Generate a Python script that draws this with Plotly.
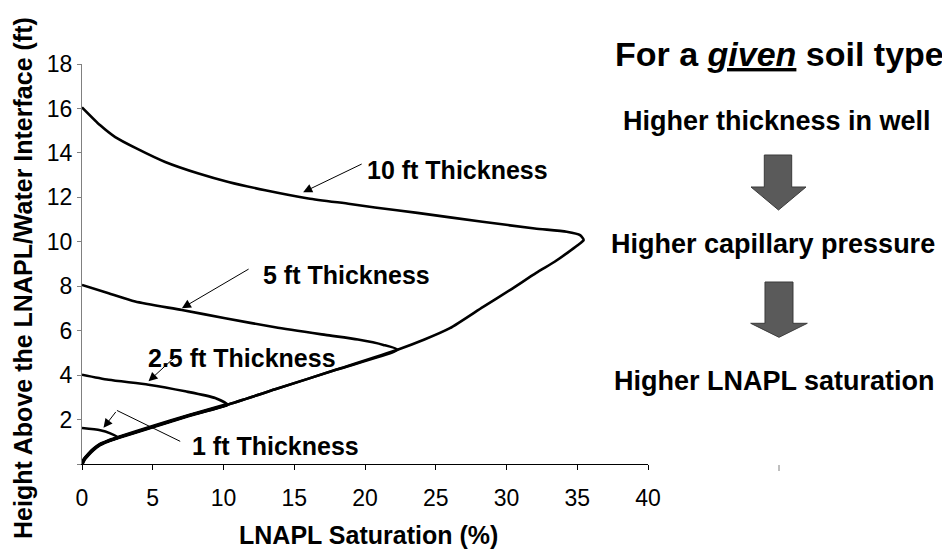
import plotly.graph_objects as go

# ---------------- data ----------------
# shared lower branch, from origin up to the 10 ft tip
lower_sat = [0, 0.15, 0.45, 0.8, 1.29, 1.9, 2.56, 5.0, 7.5, 10.27, 13.65, 18.0,
             22.3, 24.2, 26.0, 28.35, 30.3, 32.1, 33.4, 34.3, 35.0, 35.45]
lower_h = [0, 0.2, 0.43, 0.65, 0.88, 1.05, 1.19, 1.68, 2.17, 2.67, 3.36, 4.25,
           5.14, 5.6, 6.11, 7.07, 7.85, 8.6, 9.1, 9.5, 9.83, 10.08]

# upper branches (from the y axis to the junction with the lower branch)
up10_sat = [0, 1.29, 2.35, 3.88, 5.88, 8.24, 10.35, 12.95, 16.0, 18.95, 20.7,
            23.7, 28.3, 32.0, 34.25, 35.2]
up10_h = [16.05, 15.24, 14.71, 14.19, 13.59, 13.07, 12.69, 12.32, 11.95, 11.7,
          11.54, 11.3, 10.9, 10.6, 10.45, 10.3]
up5_sat = [0, 1.88, 3.76, 7.06, 10.12, 13.65, 17.2, 19.5, 21.3]
up5_h = [8.06, 7.68, 7.31, 6.93, 6.56, 6.15, 5.81, 5.6, 5.36]
up25_sat = [0, 1.88, 4.7, 7.3, 9.41]
up25_h = [4.02, 3.79, 3.57, 3.27, 2.97]
up1_sat = [0, 1.29, 2.0]
up1_h = [1.62, 1.52, 1.38]

curve_names = ["10 ft Thickness", "5 ft Thickness", "2.5 ft Thickness", "1 ft Thickness"]
curve_upper = [(up10_sat, up10_h), (up5_sat, up5_h), (up25_sat, up25_h), (up1_sat, up1_h)]
junction_idx = [21, 12, 9, 6]

x_ticks = [0, 5, 10, 15, 20, 25, 30, 35, 40]
y_ticks = [2, 4, 6, 8, 10, 12, 14, 16, 18]

# label arrows: head and tail in data units
arrow_heads_x = [15.63, 7.06, 4.70, 1.52]
arrow_heads_y = [12.23, 7.01, 3.72, 1.63]
arrow_tails_x = [19.87, 11.88, 6.73, 2.47]
arrow_tails_y = [13.53, 8.81, 4.91, 2.41]

right_texts = ["For a <i><u>given</u></i> soil type", "Higher thickness in well",
               "Higher capillary pressure", "Higher LNAPL saturation"]

# ---------------- layout helpers ----------------
# the page body adds an 8px offset; all positions below are page pixels
OFF = 8
W, H = 950, 552
PL, PR, PT, PB = 82, 648, 64, 464          # plot area in page pixels
L, T = PL - OFF, PT - OFF
R = W - (PR - OFF)
B = H - (PB - OFF)
PW, PH = PR - PL, PB - PT
FONT = "Liberation Sans, Arial, sans-serif"


def pxx(p):
    return (p - PL) / PW


def pxy(p):
    return (PB - p) / PH


fig = go.Figure()

fig.add_trace(go.Scatter(x=lower_sat[:10], y=lower_h[:10], mode="lines",
                         line=dict(color="black", width=3.8, shape="spline", smoothing=0.6),
                         showlegend=False, hoverinfo="skip"))

for name, (us, uh), j in zip(curve_names, curve_upper, junction_idx):
    xs = list(us) + lower_sat[:j + 1][::-1]
    ys = list(uh) + lower_h[:j + 1][::-1]
    fig.add_trace(go.Scatter(x=xs, y=ys, mode="lines", name=name,
                             line=dict(color="black", width=2.6, shape="spline", smoothing=0.6),
                             showlegend=False))

annotations = []
for hx, hy, tx, ty in zip(arrow_heads_x, arrow_heads_y, arrow_tails_x, arrow_tails_y):
    annotations.append(dict(x=hx, y=hy, ax=tx, ay=ty, xref="x", yref="y",
                            axref="x", ayref="y", text="", showarrow=True,
                            arrowhead=2, arrowsize=1.8, arrowwidth=1,
                            arrowcolor="black", standoff=0, startstandoff=0))

lab_font = dict(family=FONT, size=25, color="black")
label_pos = [(458, 170), (346, 275), (242, 358), (275, 446)]
for name, (lx, ly) in zip(curve_names, label_pos):
    annotations.append(dict(x=pxx(lx), y=pxy(ly), xref="paper", yref="paper",
                            text="<b>" + name + "</b>", showarrow=False,
                            xanchor="center", yanchor="middle", font=lab_font))

right_pos = [(779, 54, 34), (777, 121, 27), (773, 244, 27), (774, 381, 27)]
for txt, (rx, ry, fs) in zip(right_texts, right_pos):
    annotations.append(dict(x=pxx(rx), y=pxy(ry), xref="paper", yref="paper",
                            text="<b>" + txt + "</b>", showarrow=False,
                            xanchor="center", yanchor="middle",
                            font=dict(family=FONT, size=fs, color="black")))

annotations.append(dict(x=pxx(368), y=pxy(535), xref="paper", yref="paper",
                        text="<b>LNAPL Saturation (%)</b>", showarrow=False,
                        xanchor="center", yanchor="middle",
                        font=dict(family=FONT, size=25, color="black")))
annotations.append(dict(x=pxx(23), y=pxy(278), xref="paper", yref="paper",
                        text="<b>Height Above the LNAPL/Water Interface (ft)</b>",
                        showarrow=False, textangle=-90,
                        xanchor="center", yanchor="middle",
                        font=dict(family=FONT, size=25, color="black")))

shapes = []
shapes.append(dict(type="line", xref="x", yref="y", x0=6.94, y0=1.02,
                   x1=arrow_tails_x[3], y1=arrow_tails_y[3],
                   line=dict(color="black", width=1)))


def block_arrow(sl, sr, top, sb, hl, hr, tip_x, tip_y):
    pts = [(sl, top), (sr, top), (sr, sb), (hr, sb), (tip_x, tip_y), (hl, sb), (sl, sb)]
    path = "M " + " L ".join(f"{pxx(a):.5f},{pxy(b):.5f}" for a, b in pts) + " Z"
    return dict(type="path", xref="paper", yref="paper", path=path,
                fillcolor="#5a5a5a", line=dict(color="#3a3a3a", width=1))


shapes.append(block_arrow(764.3, 791.7, 155, 187, 751, 806, 778.5, 210))
shapes.append(block_arrow(765, 793, 282, 323.3, 750.7, 807.3, 779, 337.3))
shapes.append(dict(type="line", xref="paper", yref="paper",
                   x0=pxx(779), x1=pxx(779), y0=pxy(465), y1=pxy(471),
                   line=dict(color="#808080", width=1)))

fig.update_layout(
    width=W, height=H,
    margin=dict(l=L, r=R, t=T, b=B),
    paper_bgcolor="white", plot_bgcolor="white",
    showlegend=False,
    annotations=annotations,
    shapes=shapes,
    font=dict(family=FONT, color="black"),
)
fig.update_xaxes(range=[0, 40], tickvals=x_ticks, ticktext=[str(v) for v in x_ticks],
                 showgrid=False, zeroline=False, showline=True, linecolor="black",
                 linewidth=1, ticks="outside", ticklen=5, tickcolor="black",
                 tickfont=dict(family=FONT, size=23, color="black"),
                 ticklabelstandoff=8)
fig.update_yaxes(range=[0, 18], tickvals=[0] + y_ticks, ticktext=[""] + [str(v) for v in y_ticks],
                 showgrid=False, zeroline=False, showline=True, linecolor="#808080",
                 linewidth=1, ticks="outside", ticklen=4, tickcolor="#808080",
                 tickfont=dict(family=FONT, size=23, color="black"))

fig.write_html("out.html")
